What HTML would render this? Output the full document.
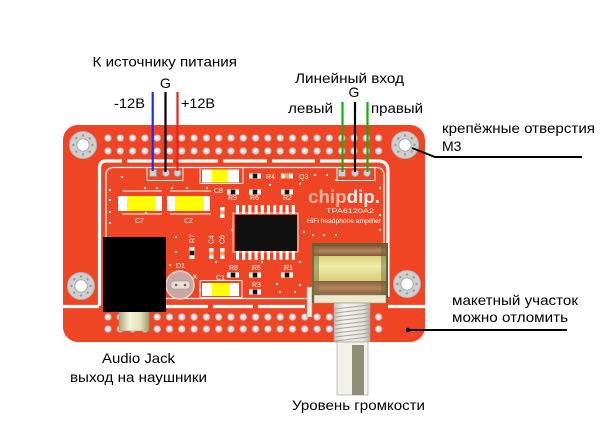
<!DOCTYPE html>
<html><head><meta charset="utf-8"><style>html,body{margin:0;padding:0;background:#fff}svg{display:block}</style></head>
<body>
<svg xmlns="http://www.w3.org/2000/svg" width="600" height="445" viewBox="0 0 600 445">
<defs>
  <pattern id="pt" patternUnits="userSpaceOnUse" x="101.85" y="131.5" width="12.3" height="13">
    <circle cx="6.15" cy="6.5" r="3.3" fill="#d9d9d9" stroke="#b8b8b8" stroke-width="0.7"/>
    <circle cx="5.6" cy="6" r="1.6" fill="#f6f6f6"/>
  </pattern>
  <pattern id="pb" patternUnits="userSpaceOnUse" x="101.85" y="310.5" width="12.3" height="12">
    <circle cx="6.15" cy="6.5" r="3.3" fill="#d9d9d9" stroke="#b8b8b8" stroke-width="0.7"/>
    <circle cx="5.6" cy="6" r="1.6" fill="#f6f6f6"/>
  </pattern>
  <g id="mh">
    <circle r="13.5" fill="#cfcfcf" stroke="#b5b5b5" stroke-width="1"/>
    <g fill="#9a9a9a">
      <circle cx="9.5" cy="0" r="1.2"/><circle cx="6.7" cy="6.7" r="1.2"/><circle cx="0" cy="9.5" r="1.2"/><circle cx="-6.7" cy="6.7" r="1.2"/>
      <circle cx="-9.5" cy="0" r="1.2"/><circle cx="-6.7" cy="-6.7" r="1.2"/><circle cx="0" cy="-9.5" r="1.2"/><circle cx="6.7" cy="-6.7" r="1.2"/>
    </g>
    <circle r="6.2" fill="#fff" stroke="#a8a8a8" stroke-width="1"/>
  </g>
  <g id="rh">
    <rect x="-6" y="-2.6" width="12" height="5.2" fill="#fff"/>
    <rect x="-2.3" y="-2.3" width="4.6" height="4.6" fill="#111"/>
  </g>
  <linearGradient id="jk" x1="0" x2="1" y1="0" y2="0">
    <stop offset="0" stop-color="#a9a57a"/><stop offset="0.35" stop-color="#f4f1d6"/><stop offset="0.7" stop-color="#e6e2bd"/><stop offset="1" stop-color="#9f9b72"/>
  </linearGradient>
  <linearGradient id="yl" x1="0" x2="0" y1="0" y2="1">
    <stop offset="0" stop-color="#d9d47a"/><stop offset="0.4" stop-color="#f0ecaa"/><stop offset="1" stop-color="#d6d07a"/>
  </linearGradient>
  <linearGradient id="br" x1="0" x2="0" y1="0" y2="1">
    <stop offset="0" stop-color="#8a5c3c"/><stop offset="0.5" stop-color="#b4865e"/><stop offset="1" stop-color="#84583a"/>
  </linearGradient>
  <linearGradient id="bs" x1="0" x2="1" y1="0" y2="0">
    <stop offset="0" stop-color="#c8c8c0"/><stop offset="0.3" stop-color="#f4f4ee"/><stop offset="0.8" stop-color="#e2e2da"/><stop offset="1" stop-color="#b0b0a6"/>
  </linearGradient>
</defs>

<!-- board -->
<rect x="63" y="125" width="362" height="217" rx="15" fill="#f04524"/>

<!-- hole rows -->
<rect x="101.85" y="131.5" width="282.9" height="26" fill="url(#pt)"/>
<rect x="101.85" y="310.5" width="282.9" height="24" fill="url(#pb)"/>

<!-- slots -->
<g stroke="#fff" stroke-width="3.2" fill="none" stroke-linecap="butt">
  <path d="M99.5,306 V168 Q99.5,161 106,161 H122"/>
  <path d="M127,161 H173 M178,161 H218 M223,161 H267 M272,161 H315 M320,161 H378"/>
  <path d="M378,161 Q388,161 388,171 V297"/>
  <path d="M63,306.5 H99 M166,306.5 H208 M213,306.5 H253 M258,306.5 H305 M388,306.5 H425"/>
</g>
<!-- inner silkscreen outline -->
<rect x="106" y="167.5" width="278" height="131" rx="7" fill="none" stroke="#fff" stroke-width="1.2"/>

<!-- mount holes -->
<use href="#mh" x="83" y="145"/>
<use href="#mh" x="405" y="145"/>
<use href="#mh" x="81" y="286"/>
<use href="#mh" x="407" y="284"/>

<!-- vias -->
<g fill="#fff">
  <circle cx="110" cy="190" r="1.1"/><circle cx="110" cy="200" r="1.1"/><circle cx="110" cy="212" r="1.1"/><circle cx="110" cy="223" r="1.1"/>
  <circle cx="122" cy="177" r="1.1"/><circle cx="145" cy="188" r="1.1"/><circle cx="157" cy="188" r="1.1"/><circle cx="172" cy="188" r="1.1"/>
  <circle cx="187" cy="188" r="1.1"/><circle cx="207" cy="188" r="1.1"/><circle cx="146" cy="213" r="1.1"/><circle cx="232" cy="180" r="1.1"/>
  <circle cx="270" cy="185" r="1.1"/><circle cx="300" cy="184" r="1.1"/><circle cx="315" cy="175" r="1.1"/><circle cx="327" cy="175" r="1.1"/>
  <circle cx="336" cy="180" r="1.1"/><circle cx="232" cy="230" r="1.1"/><circle cx="176" cy="237" r="1.1"/><circle cx="176" cy="252" r="1.1"/>
  <circle cx="170" cy="265" r="1.1"/><circle cx="216" cy="262" r="1.1"/><circle cx="262" cy="262" r="1.1"/><circle cx="300" cy="262" r="1.1"/>
  <circle cx="304" cy="232" r="1.1"/><circle cx="313" cy="235" r="1.1"/><circle cx="324" cy="235" r="1.1"/><circle cx="336" cy="235" r="1.1"/>
  <circle cx="277" cy="284" r="1.1"/><circle cx="280" cy="292" r="1.1"/><circle cx="300" cy="285" r="1.1"/><circle cx="295" cy="292" r="1.1"/>
  <circle cx="380" cy="188" r="1.1"/><circle cx="380" cy="215" r="1.1"/><circle cx="380" cy="230" r="1.1"/><circle cx="200" cy="290" r="1.1"/>
</g>

<!-- header footprints -->
<g fill="none" stroke="#fff" stroke-width="0.9">
  <rect x="147" y="167.5" width="36" height="13"/>
  <rect x="337" y="167.5" width="38" height="13"/>
</g>
<g fill="#cfcfcf" stroke="#8f8f8f" stroke-width="0.8">
  <rect x="149.5" y="169.5" width="7" height="7"/>
  <circle cx="166" cy="173" r="3.6"/><circle cx="177.5" cy="173" r="3.6"/>
  <rect x="338.5" y="169.5" width="7" height="7"/>
  <circle cx="355" cy="173" r="3.6"/><circle cx="367" cy="173" r="3.6"/>
</g>

<!-- capacitors -->
<g fill="none" stroke="#fff" stroke-width="0.9">
  <rect x="200" y="167.5" width="43" height="16"/>
  <rect x="200" y="280.5" width="42" height="17"/>
  <path d="M122,191 H162 M122,214 H162 M170,191 H211 M170,214 H211"/>
</g>
<rect x="118" y="196" width="44" height="15" fill="#fff"/><rect x="127" y="196" width="29" height="15" fill="#ffff00"/>
<rect x="167" y="196" width="43" height="15" fill="#fff"/><rect x="175" y="196" width="29" height="15" fill="#ffff00"/>
<rect x="202" y="169.5" width="37" height="13" fill="#fff"/><rect x="212" y="169.5" width="16" height="13" fill="#ffff00"/>
<rect x="202" y="283" width="37" height="13" fill="#fff"/><rect x="212" y="283" width="17" height="13" fill="#ffff00"/>

<!-- resistors -->
<use href="#rh" x="255" y="176"/>
<use href="#rh" x="233" y="192"/>
<use href="#rh" x="255" y="192"/>
<use href="#rh" x="287" y="192"/>
<use href="#rh" x="233" y="275"/>
<use href="#rh" x="255" y="275"/>
<use href="#rh" x="287" y="275"/>
<use href="#rh" x="255" y="292"/>
<!-- Q3 -->
<rect x="281" y="173.5" width="12" height="5" fill="#fff"/><rect x="284.5" y="173.5" width="5" height="5" fill="#f4a56a"/>
<!-- R7 vertical -->
<rect x="189.5" y="247" width="5" height="12" fill="#fff"/><rect x="189.8" y="250.7" width="4.4" height="4.6" fill="#111"/>
<!-- C4 C6 C5 -->
<rect x="209" y="248" width="4.5" height="11" fill="#fff"/><rect x="209" y="251.5" width="4.5" height="4" fill="#f4a56a"/>
<rect x="220" y="248" width="4.5" height="11" fill="#fff"/><rect x="220" y="251.5" width="4.5" height="4" fill="#f4a56a"/>
<rect x="220" y="207" width="4.5" height="11" fill="#fff"/><rect x="220" y="210.5" width="4.5" height="4" fill="#f4a56a"/>

<!-- IC -->
<rect x="233" y="213" width="65" height="39" fill="none" stroke="#fff" stroke-width="0.8"/>
<g fill="#fff">
  <rect x="236" y="205" width="3" height="9"/><rect x="242.2" y="205" width="3" height="9"/><rect x="248.4" y="205" width="3" height="9"/><rect x="254.6" y="205" width="3" height="9"/><rect x="260.8" y="205" width="3" height="9"/>
  <rect x="267" y="205" width="3" height="9"/><rect x="273.2" y="205" width="3" height="9"/><rect x="279.4" y="205" width="3" height="9"/><rect x="285.6" y="205" width="3" height="9"/><rect x="291.8" y="205" width="3" height="9"/>
  <rect x="236" y="251" width="3" height="9"/><rect x="242.2" y="251" width="3" height="9"/><rect x="248.4" y="251" width="3" height="9"/><rect x="254.6" y="251" width="3" height="9"/><rect x="260.8" y="251" width="3" height="9"/>
  <rect x="267" y="251" width="3" height="9"/><rect x="273.2" y="251" width="3" height="9"/><rect x="279.4" y="251" width="3" height="9"/><rect x="285.6" y="251" width="3" height="9"/><rect x="291.8" y="251" width="3" height="9"/>
</g>
<rect x="235" y="215" width="62" height="36" fill="#111"/>

<!-- LED D1 -->
<circle cx="180" cy="285" r="14" fill="#c8a8a2" stroke="#ead4d0" stroke-width="1.5"/>
<rect x="171" y="281" width="19" height="8" rx="3" fill="#e6dcd8" stroke="#a89090" stroke-width="0.6"/>
<circle cx="176" cy="285" r="1.3" fill="#7a6a66"/><circle cx="185" cy="285" r="1.3" fill="#7a6a66"/>

<!-- silkscreen labels -->
<g fill="#fff" font-family="Liberation Sans, Arial, sans-serif" font-size="7">
  <text x="135" y="223">C7</text>
  <text x="184" y="223">C2</text>
  <text x="214" y="193">C8</text>
  <text x="228" y="200">R9</text>
  <text x="250" y="200">R6</text>
  <text x="283" y="200">R2</text>
  <text x="266" y="179">R4</text>
  <text x="299" y="179">Q3</text>
  <text x="229" y="270">R8</text>
  <text x="252" y="270">R5</text>
  <text x="284" y="270">R1</text>
  <text x="252" y="287">R3</text>
  <text x="216" y="280">C1</text>
  <text x="176" y="268">D1</text>
  <text x="193" y="279">K</text>
  <text transform="translate(194.5,243) rotate(-90)">R7</text>
  <text transform="translate(213.5,244) rotate(-90)">C4</text>
  <text transform="translate(224.5,244) rotate(-90)">C6</text>
  <text x="308" y="203" font-size="18" font-weight="bold" textLength="72" lengthAdjust="spacingAndGlyphs"><tspan fill="#f7b3a2">chip</tspan><tspan fill="#eeeeee">dip.</tspan></text>
  <text x="326" y="213" font-size="6.5" textLength="48" lengthAdjust="spacingAndGlyphs">TPA6120A2</text>
  <text x="307" y="223" font-size="6.5" textLength="74" lengthAdjust="spacingAndGlyphs">HiFi headphone amplifier</text>
</g>

<!-- audio jack -->
<rect x="119" y="311" width="30" height="20" fill="url(#jk)" stroke="#9a9670" stroke-width="0.6"/>
<rect x="103" y="237" width="63" height="75" fill="#000"/>

<!-- potentiometer -->
<rect x="307" y="287" width="5" height="30" fill="#ececE4" stroke="#999" stroke-width="0.6"/>
<rect x="312" y="243" width="76" height="60" fill="#6e5e34"/>
<rect x="314" y="246" width="72" height="10" fill="url(#br)"/>
<rect x="314" y="256" width="72" height="25" fill="url(#yl)"/>
<rect x="314" y="281" width="72" height="14" fill="url(#br)"/>
<rect x="314" y="295" width="72" height="8" fill="#eeead2" stroke="#9a9a88" stroke-width="0.6"/>
<rect x="312" y="246" width="7" height="49" fill="#7d7440" opacity="0.55"/>
<rect x="381" y="246" width="6" height="49" fill="#6a5e30" opacity="0.45"/>
<rect x="334" y="303" width="36" height="39" fill="url(#bs)" stroke="#9a9a90" stroke-width="0.7"/>
<g stroke="#a6a69c" stroke-width="1">
  <path d="M335,309 L369,305 M335,313 L369,309 M335,317 L369,313 M335,321 L369,317 M335,325 L369,321 M335,329 L369,325 M335,333 L369,329 M335,337 L369,333 M335,341 L369,337"/>
</g>
<rect x="337" y="342" width="31" height="53" fill="#f1f1ea" stroke="#a8a8a0" stroke-width="0.7"/>
<rect x="352" y="345" width="12" height="50" fill="#8f8f76"/>

<!-- wires -->
<g stroke-width="2.2" fill="none">
  <line x1="152.7" y1="92" x2="152.7" y2="171" stroke="#1a2cff"/>
  <line x1="165.5" y1="92" x2="165.5" y2="172" stroke="#000"/>
  <line x1="177.5" y1="92" x2="177.5" y2="171" stroke="#e8221c"/>
  <line x1="342.5" y1="102" x2="342.5" y2="172" stroke="#10b010"/>
  <line x1="355" y1="102" x2="355" y2="172" stroke="#000"/>
  <line x1="367.5" y1="102" x2="367.5" y2="172" stroke="#10b010"/>
</g>

<!-- leader lines -->
<g stroke="#000" stroke-width="2" fill="none">
  <path d="M412,148 L435,157 H582"/>
  <path d="M408,330 H567"/>
</g>
<circle cx="408" cy="330" r="2.2" fill="#000"/>

<!-- labels -->
<g fill="#000" font-family="Liberation Sans, Arial, sans-serif" font-size="14">
  <text x="92.5" y="66.5" textLength="144.5" lengthAdjust="spacingAndGlyphs">К источнику питания</text>
  <text x="165.5" y="88" text-anchor="middle">G</text>
  <text x="114" y="108" textLength="31" lengthAdjust="spacingAndGlyphs">-12В</text>
  <text x="181" y="108" textLength="34" lengthAdjust="spacingAndGlyphs">+12В</text>
  <text x="295" y="83" textLength="109" lengthAdjust="spacingAndGlyphs">Линейный вход</text>
  <text x="354" y="97" text-anchor="middle">G</text>
  <text x="288" y="113" textLength="45" lengthAdjust="spacingAndGlyphs">левый</text>
  <text x="371" y="113" textLength="52" lengthAdjust="spacingAndGlyphs">правый</text>
  <text x="442" y="133" textLength="153" lengthAdjust="spacingAndGlyphs">крепёжные отверстия</text>
  <text x="442" y="151">М3</text>
  <text x="452" y="305" textLength="126" lengthAdjust="spacingAndGlyphs">макетный участок</text>
  <text x="452" y="322" textLength="116" lengthAdjust="spacingAndGlyphs">можно отломить</text>
  <text x="102" y="363" textLength="73" lengthAdjust="spacingAndGlyphs">Audio Jack</text>
  <text x="70" y="382" textLength="137" lengthAdjust="spacingAndGlyphs">выход на наушники</text>
  <text x="292" y="410" textLength="133" lengthAdjust="spacingAndGlyphs">Уровень громкости</text>
</g>
</svg>
</body></html>
